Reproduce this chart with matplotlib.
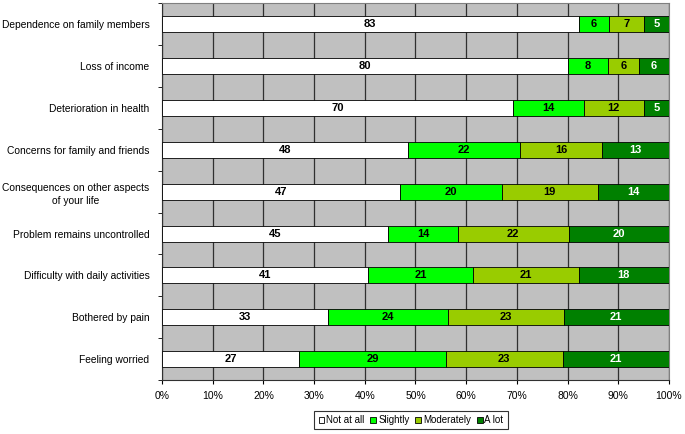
import numpy as np
import matplotlib.pyplot as plt
from matplotlib.patches import Patch

plt.rcParams['font.family'] = ['Liberation Sans', 'DejaVu Sans']

# items, top to bottom
items = [
    'Dependence on family members',
    'Loss of income',
    'Deterioration in health',
    'Concerns for family and friends',
    'Consequences on other aspects\nof your life',
    'Problem remains uncontrolled',
    'Difficulty with daily activities',
    'Bothered by pain',
    'Feeling worried',
]
not_at_all = [83, 80, 70, 48, 47, 45, 41, 33, 27]
slightly = [6, 8, 14, 22, 20, 14, 21, 24, 29]
moderately = [7, 6, 12, 16, 19, 22, 21, 23, 23]
a_lot = [5, 6, 5, 13, 14, 20, 18, 21, 21]

series = ['Not at all', 'Slightly', 'Moderately', 'A lot']
colors = ['#FFFFFF', '#00FF00', '#99CC00', '#008000']
text_colors = ['black', 'black', 'black', 'white']

vals = np.array([not_at_all, slightly, moderately, a_lot], dtype=float)
shares = vals / vals.sum(axis=0) * 100

fig = plt.figure(figsize=(6.85, 4.34), dpi=100)
ax = fig.add_axes([0.2365, 0.1244, 0.7401, 0.8676])
ax.set_facecolor('#C0C0C0')

y = np.arange(len(items))
left = np.zeros(len(items))
for k in range(4):
    ax.barh(y, shares[k], left=left, height=0.38, color=colors[k],
            edgecolor='black', linewidth=0.6, zorder=3)
    for i in range(len(items)):
        ax.text(left[i] + shares[k][i] / 2, y[i], f'{int(vals[k][i])}',
                ha='center', va='center', fontsize=8, fontweight='bold',
                color=text_colors[k], zorder=4)
    left += shares[k]

ax.set_xlim(0, 100)
ax.set_ylim(len(items) - 0.5, -0.5)
ax.set_xticks(np.arange(0, 101, 10))
ax.set_xticklabels([f'{v}%' for v in range(0, 101, 10)], fontsize=7.5)
ax.set_yticks(y)
ax.set_yticklabels(items, fontsize=7.4, multialignment='center', linespacing=1.35)
ax.set_yticks(np.arange(-0.5, len(items), 1), minor=True)
ax.tick_params(axis='y', which='major', length=0, pad=9)
ax.tick_params(axis='y', which='minor', length=3, direction='out')
ax.tick_params(axis='x', length=3, direction='out', pad=5)
ax.grid(axis='x', color='#303030', linewidth=0.9, zorder=0)
ax.set_axisbelow(True)

for side in ['top', 'right']:
    ax.spines[side].set_color('#808080')
ax.spines['left'].set_color('#303030')
ax.spines['bottom'].set_color('#303030')

handles = [Patch(facecolor=c, edgecolor='black', linewidth=0.6) for c in colors]
leg = fig.legend(handles, series, loc='center', bbox_to_anchor=(0.6, 0.032),
                 ncol=4, fontsize=7, frameon=True, fancybox=False,
                 handlelength=0.6, handleheight=0.6, handletextpad=0.2,
                 columnspacing=0.6, borderpad=0.45)
leg.get_frame().set_edgecolor('black')
leg.get_frame().set_linewidth(0.8)

fig.savefig('out.png', dpi=100)
